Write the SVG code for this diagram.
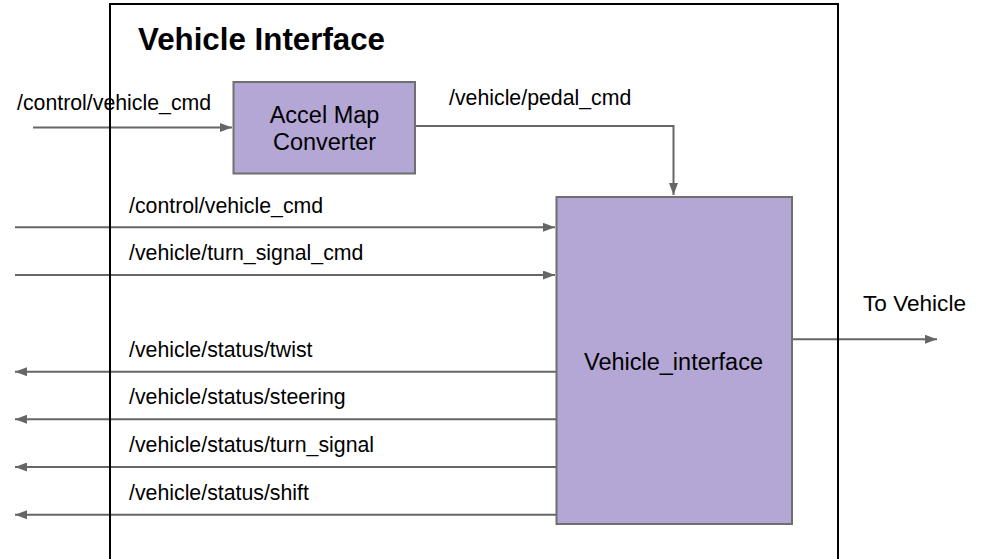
<svg xmlns="http://www.w3.org/2000/svg" width="984" height="559" viewBox="0 0 984 559">
  <style>
    .lbl { font-family: "Liberation Sans", Arial, sans-serif; font-size: 21.3px; fill: #000; }
    .node-text { font-family: "Liberation Sans", Arial, sans-serif; font-size: 23.5px; fill: #000; text-anchor: middle; }
    .title { font-family: "Liberation Sans", Arial, sans-serif; font-size: 31.3px; font-weight: bold; fill: #000; }
    .box { fill: #b4a7d6; stroke: #6f6f6f; stroke-width: 2; }
    .wire { fill: none; stroke: #666666; stroke-width: 2; }
    .frame { fill: none; stroke: #000; stroke-width: 2; }
  </style>
  <defs>
    <marker id="arrow" markerUnits="userSpaceOnUse" markerWidth="13" markerHeight="9" refX="12" refY="4.5" orient="auto">
      <path d="M0,0 L12,4.5 L0,9 z" fill="#666666"/>
    </marker>
  </defs>

  <rect width="984" height="559" fill="#ffffff"/>

  <!-- connectors -->
  <g id="connectors">
    <line class="wire" x1="33" y1="127.5" x2="232" y2="127.5" marker-end="url(#arrow)"/>
    <polyline class="wire" points="415,126 673.5,126 673.5,195" marker-end="url(#arrow)"/>
    <line class="wire" x1="15" y1="227.3" x2="555" y2="227.3" marker-end="url(#arrow)"/>
    <line class="wire" x1="15" y1="275" x2="555" y2="275" marker-end="url(#arrow)"/>
    <line class="wire" x1="556" y1="371.7" x2="15" y2="371.7" marker-end="url(#arrow)"/>
    <line class="wire" x1="556" y1="419.3" x2="15" y2="419.3" marker-end="url(#arrow)"/>
    <line class="wire" x1="556" y1="467" x2="15" y2="467" marker-end="url(#arrow)"/>
    <line class="wire" x1="556" y1="514.7" x2="15" y2="514.7" marker-end="url(#arrow)"/>
    <line class="wire" x1="792" y1="339.3" x2="937" y2="339.3" marker-end="url(#arrow)"/>
  </g>

  <!-- enclosing frame (bottom edge runs below the canvas) -->
  <g id="vehicle-interface-frame">
    <rect class="frame" x="110" y="4" width="728" height="620"/>
    <text class="title" x="138" y="50">Vehicle Interface</text>
  </g>

  <g id="accel-map-converter">
    <rect class="box" x="233.5" y="82" width="181.5" height="91.5"/>
    <text class="node-text" x="324.5" y="122.5">Accel Map</text>
    <text class="node-text" x="324.5" y="150">Converter</text>
  </g>

  <g id="vehicle-interface-node">
    <rect class="box" x="556.5" y="197" width="235.5" height="327"/>
    <text class="node-text" x="673.5" y="370">Vehicle_interface</text>
  </g>

  <!-- topic labels -->
  <g id="labels">
    <text class="lbl" x="17" y="110">/control/vehicle_cmd</text>
    <text class="lbl" x="449" y="105">/vehicle/pedal_cmd</text>
    <text class="lbl" x="129" y="212.5">/control/vehicle_cmd</text>
    <text class="lbl" x="129" y="260">/vehicle/turn_signal_cmd</text>
    <text class="lbl" x="129" y="356.5">/vehicle/status/twist</text>
    <text class="lbl" x="129" y="404">/vehicle/status/steering</text>
    <text class="lbl" x="129" y="452">/vehicle/status/turn_signal</text>
    <text class="lbl" x="129" y="499.5">/vehicle/status/shift</text>
    <text class="lbl" x="863" y="310.5" style="font-size:22.6px">To Vehicle</text>
  </g>
</svg>
